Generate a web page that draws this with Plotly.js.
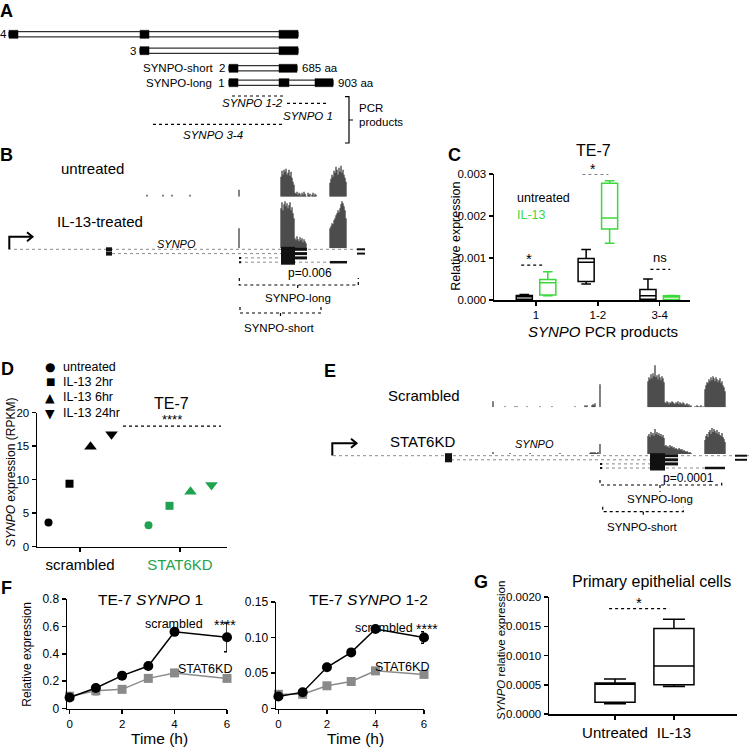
<!DOCTYPE html>
<html><head><meta charset="utf-8">
<script src="https://cdn.plot.ly/plotly-3.0.1.min.js"></script>
<style>html,body{margin:0;padding:0;background:#fff}#chart{width:749px;height:748px}</style>
</head><body><div id="chart"></div>
<script>
// ================= DATA =================
// Panel A: SYNPO isoforms (exon coordinates, schematic genome units)
const isoformNames=['4','3','2','1'];
const isoformLabels=['','','SYNPO-short','SYNPO-long'];
const isoformAA=['','','685 aa','903 aa'];
const isoformExonStarts=[[9,140,279],[140,279],[229,279],[229,279,315]];
const isoformExonEnds=[[18,149,298],[149,298],[238,297],[238,289,333]];
const pcrNames=['SYNPO 1-2','SYNPO 1','SYNPO 3-4'];
const pcrStarts=[232,287,153];
const pcrEnds=[285,328,283];

// Panel B: RNA-seq coverage (block start, per-position read heights)
const bUntreatedStarts=[147,163,172,190,239,281,295,330];
const bUntreatedHeights=[[2],[2],[2],[2],[7],
 [20,26,22,27,25,28,22,24,27,21,25,19,15,12],
 [4,3,5,2,4,3,1,4,2,5,3,1,0,4,2,3,0,2,4,1,3,2],
 [14,18,22,20,26,24,30,27,22,29,25,31,24,27,22,19,15]];
const bIL13Starts=[239,281,295,330];
const bIL13Heights=[[20],
 [40,46,38,44,47,42,45,40,43,46,38,41,35,30],
 [10,8,12,9,7,11,8,10,6,9,7,5],
 [20,22,25,24,28,30,33,35,38,36,40,44,47,45,42,38,30]];
const bTxStarts=[8,106,239,239];
const bTxEnds=[365,307,307,347];
const bTxExonStarts=[[106,281,295,357],[106,281,295,357],[239,281,295],[239,281,330]];
const bTxExonEnds=[[112,295,307,365],[112,295,307,365],[241,295,307],[241,295,347]];

// Panel C: TE-7 qPCR boxes
const cProducts=['1','1-2','3-4'];
const cUntreatedLow=[0.0,0.00038,0.0];
const cUntreatedQ1=[0.00002,0.00044,0.00002];
const cUntreatedMed=[0.00008,0.0009,0.0001];
const cUntreatedQ3=[0.00011,0.00099,0.00025];
const cUntreatedHigh=[0.00013,0.0012,0.0005];
const cIL13Low=[0.0001,0.00135,0.0];
const cIL13Q1=[0.00012,0.00169,0.00001];
const cIL13Med=[0.00041,0.00195,0.00007];
const cIL13Q3=[0.00049,0.00278,0.0001];
const cIL13High=[0.00067,0.00284,0.00011];
const cSigLabels=['*','*','ns'];

// Panel D: RPKM
const dGroups=['scrambled','STAT6KD'];
const dTimepoints=['untreated','IL-13 2hr','IL-13 6hr','IL-13 24hr'];
const dScrambled=[3.6,9.4,14.9,16.8];
const dSTAT6KD=[3.2,6.1,8.2,9.2];

// Panel E: coverage
const eScrStarts=[493,505,515,527,540,552,575,585,592,600,648,665,695,705];
const eScrHeights=[[6],[1],[1,0,1],[1],[1],[1],[1],[2,1,2],[2,3,2,4],[23],
 [26,30,28,33,29,34,31,42,30,32,28,33,30,27,31,29,25],
 [5,4,6,5,3,5,4,6,5,4,3,5,4,6,3,5,4,3,5,4,2,3,4,2,3,1,2],
 [1,0,2,1,0,1,2,0,1],
 [18,22,25,24,28,26,30,27,31,29,26,30,28,25,27,29,24,26,22,20,16]];
const eKDStarts=[493,510,530,560,590,600,648,665,705];
const eKDHeights=[[2],[1],[1],[1],[1,2,1,2,1,2,1,1,2],[10],
 [18,20,17,22,19,21,18,25,20,22,19,21,18,20,17,19,16],
 [8,9,7,8,6,9,7,8,6,7,5,6,5,4,6,5,4,5,3,4,3,2,3,2,1,2,1],
 [14,18,20,17,22,24,20,26,22,25,23,21,24,20,22,19,18,21,17,15,12]];
const eTxStarts=[333,445,600,600];
const eTxEnds=[749,678,678,725];
const eTxExonStarts=[[445,650,665,735],[445,650,665,735],[600,650,665],[600,650,705]];
const eTxExonEnds=[[452,665,678,747],[452,665,678,747],[602,665,678],[602,665,725]];

// Panel F: time course
const fTimes=[0,1,2,3,4,6];
const f1Scrambled=[0.08,0.15,0.24,0.31,0.56,0.52];
const f1ScrambledErr=[0,0.02,0,0,0,0.105];
const f1STAT6KD=[0.09,0.13,0.14,0.22,0.26,0.22];
const f1STAT6KDErr=[0,0.03,0,0,0,0];
const f2Scrambled=[0.017,0.023,0.058,0.079,0.112,0.100];
const f2ScrambledErr=[0,0,0,0,0,0.008];
const f2STAT6KD=[0.020,0.020,0.032,0.038,0.053,0.048];
const f2STAT6KDErr=[0,0,0,0,0,0];
const f2TickVals=[0,0.05,0.10,0.15];
const f2TickText=['0','0.05','0.10','0.15'];

// Panel G: primary epithelial cells
const gGroups=['Untreated','IL-13'];
const gLow=[0.000175,0.00047];
const gQ1=[0.0002,0.0005];
const gMed=[0.00051,0.00082];
const gQ3=[0.00053,0.00146];
const gHigh=[0.0006,0.00162];

// ================= DRAWING =================
const W=749,H=748;
const PX=p=>p/W, PY=p=>1-p/H;
const FONT='Arial, "Liberation Sans", Helvetica, sans-serif';
const GREEN_C='#3cd83c', GREEN_D='#1fa34f', GREY='#8a8a8a', COV='#262626';

function T(text,x,y,size,o){return Object.assign({xref:'paper',yref:'paper',x:PX(x),y:PY(y),text:text,showarrow:false,xanchor:'center',yanchor:'middle',font:{family:FONT,size:size||12,color:'#000'}},o||{});}
function A(xref,yref,text,x,y,size,o){return Object.assign({xref:xref,yref:yref,x:x,y:y,text:text,showarrow:false,xanchor:'center',yanchor:'middle',font:{family:FONT,size:size||12,color:'#000'}},o||{});}

const axisBase={showgrid:false,zeroline:false,showline:true,linecolor:'#000',linewidth:1.5,ticks:'outside',ticklen:4,tickwidth:1.5,tickcolor:'#000',tickfont:{family:FONT,size:12,color:'#000'},fixedrange:true};
const ax=o=>Object.assign({},axisBase,o);
const hax=o=>Object.assign({visible:false,fixedrange:true,showgrid:false,zeroline:false},o);

const traces=[];const shapes=[];const anns=[];

// ---- Panel A ----
const aRowY=[34.3,50.7,68.3,82.7];
isoformExonStarts.forEach((starts,i)=>{
  const ends=isoformExonEnds[i], y=aRowY[i];
  shapes.push({type:'rect',xref:'x',yref:'y',x0:starts[0],x1:ends[ends.length-1],y0:y-2.6,y1:y+2.6,fillcolor:'#fff',line:{color:'#000',width:1}});
  starts.forEach((s,j)=>shapes.push({type:'rect',xref:'x',yref:'y',x0:s,x1:ends[j],y0:y-4,y1:y+4,fillcolor:'#000',line:{color:'#000',width:0.5}}));
  const lab=isoformLabels[i]?isoformLabels[i]+'\u00a0\u00a0'+isoformNames[i]:isoformNames[i];
  anns.push(A('x','y',lab,Math.max(starts[0]-2,9),y,11.5,{xanchor:'right'}));
  if(isoformAA[i]) anns.push(A('x','y',isoformAA[i],ends[ends.length-1]+3,y,11.5,{xanchor:'left'}));
});
const pcrLineY=[96,103.3,124.3];
pcrNames.forEach((n,i)=>{
  shapes.push({type:'line',xref:'x',yref:'y',x0:pcrStarts[i],x1:pcrEnds[i],y0:pcrLineY[i],y1:pcrLineY[i],line:{color:'#000',width:1.2,dash:'dot'}});
});
anns.push(A('x','y','<i>'+pcrNames[0]+'</i>',pcrEnds[0],103.3,11.5,{xanchor:'right'}));
anns.push(A('x','y','<i>'+pcrNames[1]+'</i>',(pcrStarts[1]+pcrEnds[1])/2,116,11.5));
anns.push(A('x','y','<i>'+pcrNames[2]+'</i>',(pcrStarts[2]+pcrEnds[2])/2-5,135,11.5));
shapes.push({type:'path',xref:'x',yref:'y',path:'M 345 96.7 L 349 96.7 L 349 143 L 345 143 M 349 120 L 353 120',line:{color:'#000',width:1.2}});
anns.push(A('x','y','PCR',357,108,11.5,{xanchor:'left'}));
anns.push(A('x','y','products',357,122,11.5,{xanchor:'left'}));

// ---- coverage helper ----
function cov(starts,heights,xa,ya){
  const x=[],y=[];
  starts.forEach((s,i)=>heights[i].forEach((h,j)=>{x.push(s+j);y.push(h);}));
  traces.push({type:'bar',x:x,y:y,width:1.15,marker:{color:COV,line:{width:0}},xaxis:xa,yaxis:ya,hoverinfo:'skip'});
}
function gene(xref,yref,st,en,exS,exE,rowY,exH){
  st.forEach((s,i)=>{
    shapes.push({type:'line',xref:xref,yref:yref,x0:s,x1:en[i],y0:rowY[i],y1:rowY[i],line:{color:'#8a8a8a',width:1,dash:'dot'}});
    exS[i].forEach((e,j)=>{const h=exH[i][j];shapes.push({type:'rect',xref:xref,yref:yref,x0:e,x1:exE[i][j],y0:rowY[i]-h/2,y1:rowY[i]+h/2,fillcolor:'#111',line:{width:0}});});
  });
}
function bracket(xref,yref,x0,x1,y,up,mid,down){
  shapes.push({type:'path',xref:xref,yref:yref,path:`M ${x0} ${y-up} L ${x0} ${y} L ${x1} ${y} L ${x1} ${y-up} M ${mid} ${y} L ${mid} ${y+down}`,line:{color:'#000',width:1.2,dash:'dot'}});
}

// ---- Panel B ----
cov(bUntreatedStarts,bUntreatedHeights,'x2','y3');
cov(bIL13Starts,bIL13Heights,'x2','y4');
gene('x2','y2',bTxStarts,bTxEnds,bTxExonStarts,bTxExonEnds,[249.3,253.6,257.9,262.2],
  [[4,5,3,2],[4,5,3,2],[2,5,3],[2,5,2.5]]);
shapes.push({type:'path',xref:'x2',yref:'y2',path:'M 9.3 249 L 9.3 236.7 L 32 236.7',line:{color:'#000',width:2}});
shapes.push({type:'path',xref:'x2',yref:'y2',path:'M 27 232.2 L 32.5 236.7 L 27 241.2',line:{color:'#000',width:2}});
bracket('x2','y2',239.3,358.3,285,7,297.7,5);
bracket('x2','y2',240,321,313,6,280.5,4);
anns.push(T('untreated',92.5,168.3,15));
anns.push(T('IL-13-treated',100,221.7,15));
anns.push(T('<i>SYNPO</i>',176,244.3,11));
anns.push(T('p=0.006',310,272.7,12));
anns.push(T('SYNPO-long',297.7,298,11.5));
anns.push(T('SYNPO-short',279.3,327.7,11.5));

// ---- Panel C ----
const cOff=0.19;
traces.push({type:'box',x:cProducts.map((_,i)=>i-cOff),q1:cUntreatedQ1,median:cUntreatedMed,q3:cUntreatedQ3,lowerfence:cUntreatedLow,upperfence:cUntreatedHigh,width:0.26,boxpoints:false,whiskerwidth:0.6,line:{color:'#000',width:1.5},fillcolor:'rgba(0,0,0,0)',xaxis:'x3',yaxis:'y5',hoverinfo:'skip'});
traces.push({type:'box',x:cProducts.map((_,i)=>i+cOff),q1:cIL13Q1,median:cIL13Med,q3:cIL13Q3,lowerfence:cIL13Low,upperfence:cIL13High,width:0.26,boxpoints:false,whiskerwidth:0.6,line:{color:GREEN_C,width:1.5},fillcolor:'rgba(0,0,0,0)',xaxis:'x3',yaxis:'y5',hoverinfo:'skip'});
const cSigY=[0.00083,0.003,0.00073];
const cSigX0=[-0.24,0.75,1.85], cSigX1=[0.1,1.17,2.17];
cSigLabels.forEach((l,i)=>{
  shapes.push({type:'line',xref:'x3',yref:'y5',x0:cSigX0[i],x1:cSigX1[i],y0:cSigY[i],y1:cSigY[i],line:{color:'#000',width:1.2,dash:'dot'}});
});
anns.push(T('*',528.5,258,15));
anns.push(T('*',593,169,14));
anns.push(T('ns',659.7,257.7,13));
anns.push(T('TE-7',593,150,16));
anns.push(T('untreated',515,198.3,12.5,{xanchor:'left'}));
anns.push(T('IL-13',515,215,12.5,{xanchor:'left',font:{family:FONT,size:12.5,color:GREEN_C}}));
anns.push(T('Relative expression',456,236.7,12.5,{textangle:-90}));
anns.push(T('<i>SYNPO</i> PCR products',602.5,331.5,15));

// ---- Panel D ----
const dSymbols=['circle','square','triangle-up','triangle-down'];
const dSizes=[8,8,11,11];
dTimepoints.forEach((t,k)=>{
  const off=(k-1.5)*0.21;
  traces.push({type:'scatter',mode:'markers',x:[0+off,1+off],y:[dScrambled[k],dSTAT6KD[k]],marker:{symbol:dSymbols[k],size:dSizes[k],color:['#000',GREEN_D],line:{width:0}},xaxis:'x4',yaxis:'y6',cliponaxis:false,hoverinfo:'skip'});
});
shapes.push({type:'line',xref:'x4',yref:'y6',x0:0.43,x1:1.41,y0:18,y1:18,line:{color:'#000',width:1.2,dash:'dot'}});
anns.push(T('TE-7',171,403,16));
anns.push(T('****',172,419,13));
const dLegGlyph=['●','■','▲','▼'], dLegSize=[12,10,12.5,12.5], dLegY=[367,381.5,397,413];
dTimepoints.forEach((t,k)=>{
  anns.push(T(dLegGlyph[k],50,dLegY[k],dLegSize[k],{font:{family:'DejaVu Sans',size:dLegSize[k],color:'#000'},borderpad:0}));
  anns.push(T(t,61,dLegY[k],12.5,{xanchor:'left'}));
});
anns.push(T('<i>SYNPO</i> expression (RPKM)',11,473,12,{textangle:-90}));

// ---- Panel E ----
cov(eScrStarts,eScrHeights,'x5','y8');
cov(eKDStarts,eKDHeights,'x5','y9');
gene('x5','y7',eTxStarts,eTxEnds,eTxExonStarts,eTxExonEnds,[455.7,459.8,463.9,468],
  [[5,5,3,2],[5,5,3,2],[2,5,3],[2,5,2.5]]);
shapes.push({type:'path',xref:'x5',yref:'y7',path:'M 332.3 455.5 L 332.3 443.3 L 356 443.3',line:{color:'#000',width:2}});
shapes.push({type:'path',xref:'x5',yref:'y7',path:'M 351 438.8 L 356.5 443.3 L 351 447.8',line:{color:'#000',width:2}});
bracket('x5','y7',600,721.7,485,5,660,7);
bracket('x5','y7',602.7,683.3,511.7,5,643.3,5);
anns.push(T('Scrambled',424,395,15));
anns.push(T('STAT6KD',422,441.7,15));
anns.push(T('<i>SYNPO</i>',534.3,444.3,11));
anns.push(T('p=0.0001',688.3,478.3,12));
anns.push(T('SYNPO-long',660,498.5,11.5));
anns.push(T('SYNPO-short',641.7,527.3,11.5));

// ---- Panel F ----
function fLines(xa,ya,scr,scrErr,kd,kdErr){
  traces.push({type:'scatter',mode:'lines+markers',x:fTimes,y:kd,line:{color:GREY,width:1.5},marker:{symbol:'square',size:9,color:GREY},error_y:{type:'data',array:kdErr,color:GREY,thickness:1.5,width:3},xaxis:xa,yaxis:ya,cliponaxis:false,hoverinfo:'skip'});
  traces.push({type:'scatter',mode:'lines+markers',x:fTimes,y:scr,line:{color:'#000',width:1.5},marker:{symbol:'circle',size:10,color:'#000'},error_y:{type:'data',array:scrErr,color:'#000',thickness:1.5,width:3},xaxis:xa,yaxis:ya,cliponaxis:false,hoverinfo:'skip'});
}
fLines('x6','y10',f1Scrambled,f1ScrambledErr,f1STAT6KD,f1STAT6KDErr);
fLines('x7','y11',f2Scrambled,f2ScrambledErr,f2STAT6KD,f2STAT6KDErr);
anns.push(T('TE-7 <i>SYNPO</i> 1',150,599,15.5));
anns.push(T('TE-7 <i>SYNPO</i> 1-2',368,599,15.5));
anns.push(T('scrambled',174,624,12.5));
anns.push(T('****',225,625,14));
anns.push(T('STAT6KD',205,669,12.5));
anns.push(T('scrambled',384,628,12.5));
anns.push(T('****',427,629,14));
anns.push(T('STAT6KD',402,667,12.5));
anns.push(T('Relative expression',26.7,654,12,{textangle:-90}));
anns.push(T('Time (h)',159,738.5,15.5));
anns.push(T('Time (h)',355,738.5,15.5));

// ---- Panel G ----
traces.push({type:'box',x:gGroups.map((_,i)=>i),q1:gQ1,median:gMed,q3:gQ3,lowerfence:gLow,upperfence:gHigh,width:0.68,boxpoints:false,whiskerwidth:0.55,line:{color:'#000',width:1.5},fillcolor:'rgba(0,0,0,0)',xaxis:'x8',yaxis:'y12',hoverinfo:'skip'});
shapes.push({type:'line',xref:'x8',yref:'y12',x0:-0.1,x1:0.92,y0:0.0018,y1:0.0018,line:{color:'#000',width:1.2,dash:'dot'}});
anns.push(T('*',639,602,15));
anns.push(T('Primary epithelial cells',651.7,581.7,16));
anns.push(T('<i>SYNPO</i> relative expression',501,651,11.5,{textangle:-90}));

// ---- Panel letters ----
[['A',6.5,11],['B',6.5,155],['C',455,155],['D',7.5,369],['E',330,371],['F',7,588],['G',481,581.5]].forEach(l=>{
  anns.push(T('<b>'+l[0]+'</b>',l[1],l[2],18,{font:{family:'"Liberation Sans", Arial, sans-serif',size:18,color:'#000'}}));
});

const layout={
  width:W,height:H,margin:{l:0,r:0,t:0,b:0},showlegend:false,barmode:'overlay',
  paper_bgcolor:'#fff',plot_bgcolor:'rgba(0,0,0,0)',font:{family:FONT,color:'#000'},
  xaxis:hax({domain:[0,PX(400)],range:[0,400],anchor:'y'}),
  yaxis:hax({domain:[PY(148),1],range:[148,0],anchor:'x'}),
  xaxis2:hax({domain:[0,PX(370)],range:[0,370],anchor:'y2'}),
  yaxis2:hax({domain:[PY(340),PY(150)],range:[340,150],anchor:'x2'}),
  yaxis3:hax({domain:[PY(196.7),PY(160)],range:[0,36.7],anchor:'x2'}),
  yaxis4:hax({domain:[PY(248.3),PY(196)],range:[0,52.3],anchor:'x2'}),
  xaxis3:ax({domain:[PX(494),PX(690)],range:[-0.68,2.49],anchor:'y5',tickvals:[0,1,2],ticktext:cProducts,tickfont:{family:FONT,size:11.5,color:'#000'}}),
  yaxis5:ax({domain:[PY(300),PY(174)],range:[0,0.003],anchor:'x3',tickvals:[0,0.001,0.002,0.003],tickformat:'.3f',tickfont:{family:FONT,size:11.5,color:'#000'}}),
  xaxis4:ax({domain:[PX(37),PX(227)],range:[-0.43,1.47],anchor:'y6',tickvals:[0,1],ticktext:[dGroups[0],'<span style="color:'+GREEN_D+'">'+dGroups[1]+'</span>'],tickfont:{family:FONT,size:15,color:'#000'}}),
  yaxis6:ax({domain:[PY(546.7),PY(412.7)],range:[0,20],anchor:'x4',dtick:5,tickfont:{family:FONT,size:11.5,color:'#000'}}),
  xaxis5:hax({domain:[PX(325),1],range:[325,749],anchor:'y7'}),
  yaxis7:hax({domain:[PY(535),PY(360)],range:[535,360],anchor:'x5'}),
  yaxis8:hax({domain:[PY(407.3),PY(360)],range:[0,47.3],anchor:'x5'}),
  yaxis9:hax({domain:[PY(454),PY(415)],range:[0,39],anchor:'x5'}),
  xaxis6:ax({domain:[PX(67),PX(227)],range:[-0.1,6],anchor:'y10',dtick:2,tickfont:{family:FONT,size:11.5,color:'#000'}}),
  yaxis10:ax({domain:[PY(708.5),PY(599)],range:[0,0.8],anchor:'x6',dtick:0.2}),
  xaxis7:ax({domain:[PX(276),PX(424)],range:[-0.1,6],anchor:'y11',dtick:2,tickfont:{family:FONT,size:11.5,color:'#000'}}),
  yaxis11:ax({domain:[PY(708.5),PY(602)],range:[0,0.15],anchor:'x7',tickvals:f2TickVals,ticktext:f2TickText}),
  xaxis8:ax({domain:[PX(549),PX(737)],range:[-1.12,2.07],anchor:'y12',tickvals:[0,1],ticktext:gGroups,tickfont:{family:FONT,size:15,color:'#000'}}),
  yaxis12:ax({domain:[PY(714),PY(597)],range:[0,0.002],anchor:'x8',dtick:0.0005,tickformat:'.4f',tickfont:{family:FONT,size:11.5,color:'#000'}}),
  shapes:shapes,annotations:anns
};
Plotly.newPlot('chart',traces,layout,{staticPlot:true,displayModeBar:false});
</script></body></html>
